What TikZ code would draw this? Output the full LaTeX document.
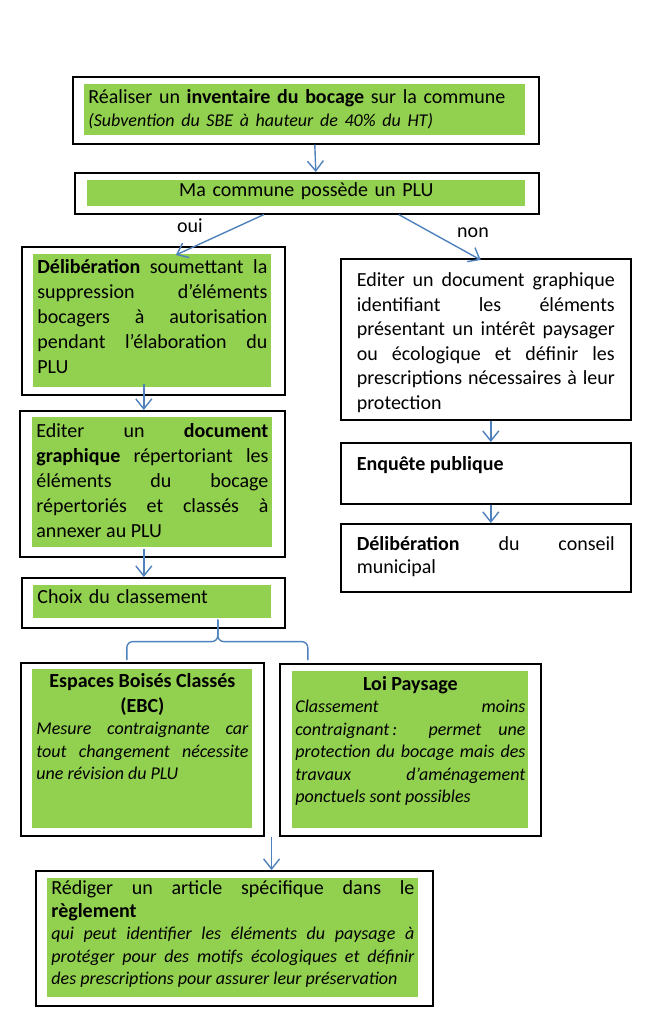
\documentclass[tikz,border=0pt]{standalone}
\usepackage{fontspec}
\setmainfont{Carlito}
\usetikzlibrary{arrows.meta}
\definecolor{leafgreen}{HTML}{92D050}
\definecolor{flowblue}{HTML}{4F81BD}
\newcommand{\notefont}{\fontsize{9}{11.25}\selectfont\itshape}
\tikzset{
  frame/.style={draw, line width=0.8pt, inner sep=0pt, anchor=north west},
  leaf/.style={fill=leafgreen, inner xsep=2pt, inner ysep=0pt, anchor=north west, align=justify, font=\fontsize{10}{12.5}\selectfont},
  note/.style={draw, line width=0.8pt, inner xsep=8pt, inner ysep=0pt, text width=129pt, anchor=north west, align=justify, font=\fontsize{10}{12.25}\selectfont},
  flow/.style={draw=flowblue, line width=0.7pt, -{Straight Barb[length=5pt,width=8pt]}},
  brace/.style={draw=flowblue, line width=0.7pt, rounded corners=3pt},
  lbl/.style={font=\fontsize{10}{12}\selectfont, inner sep=0pt}
}
\begin{document}
\begin{tikzpicture}[x=0.5pt, y=-0.5pt]
\useasboundingbox (0,0) rectangle (658,1024);

\node[frame, minimum width=233pt, minimum height=33.5pt] (inv) at (72,76) {};
\node[leaf, align=left, text width=216.5pt, text height=9.5pt, text depth=16pt, font=\fontsize{10}{11.5}\selectfont] (invtxt) at (84,84)
  {Réaliser un \textbf{inventaire du bocage} sur la commune\\{\notefont (Subvention du SBE à hauteur de 40\% du HT)}};

\node[frame, minimum width=232pt, minimum height=20.5pt] (plu) at (74,172) {};
\node[leaf, align=center, text width=215pt, text height=8pt, text depth=5pt] (plutxt) at (87,180) {Ma commune possède un PLU};

\node[frame, minimum width=131.5pt, minimum height=74pt] (delib) at (21,246) {};
\node[leaf, text width=115pt, text height=9.5pt, text depth=57pt] (delibtxt) at (33,254)
  {\textbf{Délibération} soumettant la\linebreak suppression d’éléments\linebreak bocagers à autorisation\linebreak pendant l’élaboration du\linebreak PLU};

\node[frame, minimum width=132.5pt, minimum height=73pt] (graph) at (19,410) {};
\node[leaf, text width=116pt, text height=10pt, text depth=55pt] (graphtxt) at (32,417)
  {Editer un \textbf{document}\linebreak \textbf{graphique} répertoriant les\linebreak éléments du bocage\linebreak répertoriés et classés à\linebreak annexer au PLU};

\node[frame, minimum width=131.5pt, minimum height=25pt] (choix) at (21,577) {};
\node[leaf, align=left, text width=115pt, text height=9pt, text depth=7.5pt] (choixtxt) at (33,585) {Choix du classement};

\node[frame, minimum width=121.5pt, minimum height=86.5pt] (ebc) at (20,662) {};
\node[leaf, text width=106pt, text height=9pt, text depth=70.5pt] (ebctxt) at (32,669)
  {{\centering\bfseries Espaces Boisés Classés\\(EBC)\par}
   {\notefont Mesure contraignante car\linebreak tout changement nécessite\linebreak une révision du PLU\par}};

\node[frame, minimum width=130.5pt, minimum height=86pt] (loi) at (279,663) {};
\node[leaf, inner xsep=1.5pt, text width=115pt, text height=9.5pt, text depth=69pt] (loitxt) at (292,671)
  {{\centering\bfseries Loi Paysage\par}
   {\notefont Classement moins\linebreak contraignant\,: permet une\linebreak protection du bocage mais des\linebreak travaux d’aménagement\linebreak ponctuels sont possibles\par}};

\node[frame, minimum width=198.5pt, minimum height=67.5pt] (regl) at (35,870) {};
\node[leaf, text width=181.5pt, text height=8pt, text depth=51.5pt, font=\fontsize{10}{11.5}\selectfont] (regltxt) at (47,878)
  {Rédiger un article spécifique dans le\linebreak \textbf{règlement}\par
   {\notefont qui peut identifier les éléments du paysage à\linebreak protéger pour des motifs écologiques et définir\linebreak des prescriptions pour assurer leur préservation\par}};

\node[note, text height=14pt, text depth=66.5pt] (edit) at (340,258)
  {Editer un document graphique\linebreak identifiant les éléments\linebreak présentant un intérêt paysager\linebreak ou écologique et définir les\linebreak prescriptions nécessaires à leur\linebreak protection};
\node[note, text height=14pt, text depth=16.5pt] (enq) at (340,442) {\textbf{Enquête publique}};
\node[note, text height=13.5pt, text depth=20.5pt, font=\fontsize{10}{11.5}\selectfont] (cons) at (340,523)
  {\textbf{Délibération} du conseil\linebreak municipal};

\node[lbl] (oui) at (190,226) {oui};
\node[lbl] (non) at (473,233) {non};

\draw[flow] ([xshift=4.5pt]inv.south) -- ([xshift=4.5pt]plu.north);
\draw[flow] ([xshift=-21.5pt]plu.south) -- ([xshift=11.25pt,yshift=-4.5pt]delib.north);
\draw[flow] ([xshift=46pt]plu.south) -- ([xshift=-2.5pt,yshift=-1pt]edit.north);
\draw[flow] ([xshift=-4.75pt,yshift=6pt]delib.south) -- ([xshift=-4.25pt]graph.north);
\draw[flow] ([xshift=-4.25pt,yshift=4.5pt]graph.south) -- ([xshift=-4.75pt]choix.north);
\draw[flow] ([xshift=2.5pt]edit.south) -- ([xshift=2.5pt]enq.north);
\draw[flow] ([xshift=2.5pt]enq.south) -- ([xshift=2.5pt]cons.north);

\coordinate (brT) at ([xshift=32.25pt,yshift=4.5pt]choix.south);
\coordinate (brM) at ([yshift=-11pt]brT);
\coordinate (brL) at ([xshift=-7.75pt,yshift=1pt]ebc.north);
\coordinate (brR) at ([xshift=-51.25pt,yshift=1.5pt]loi.north);
\draw[brace] (brL) |- (brM) -- (brT);
\draw[brace] (brR) |- (brM) -- (brT);

\coordinate (gap) at ([xshift=3.5pt]ebc.south east);
\draw[flow] (gap) -- (gap |- regl.north);
\end{tikzpicture}
\end{document}
